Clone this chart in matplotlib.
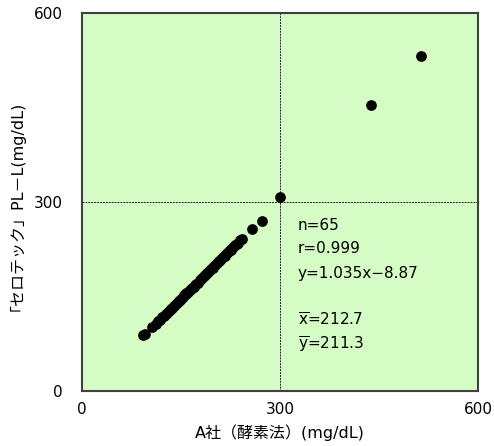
import matplotlib.pyplot as plt

plt.rcParams['font.family'] = ['DejaVu Sans', 'Noto Sans CJK JP']

# A社 (x) vs セロテック (y), mg/dL
x_vals = [93, 95, 106, 112, 115, 118, 121, 124, 127, 130, 133, 135, 136, 139, 142,
          145, 147, 148, 150, 153, 155, 157, 158, 161, 163, 165, 166, 169, 171, 172,
          175, 178, 180, 181, 184, 187, 189, 190, 193, 196, 198, 199, 202, 205, 207,
          208, 211, 214, 216, 217, 220, 223, 225, 226, 229, 232, 234, 236, 240, 242,
          258, 273, 300, 438, 513]
y_vals = [89, 91, 102, 107, 111, 113, 117, 119, 123, 126, 128, 131, 132, 135, 138,
          141, 143, 145, 146, 150, 152, 154, 155, 158, 160, 162, 163, 166, 168, 170,
          172, 176, 178, 179, 182, 185, 187, 188, 191, 194, 196, 197, 200, 204, 206,
          206, 210, 213, 214, 216, 219, 222, 224, 225, 228, 232, 233, 235, 239, 242,
          257, 270, 308, 454, 532]

ticks = [0, 300, 600]
stats = ['n=65', 'r=0.999', 'y=1.035x\u22128.87', '',
         r'$\mathregular{\overline{x}}$=212.7', r'$\mathregular{\overline{y}}$=211.3']

fig = plt.figure(figsize=(4.94, 4.46), dpi=100)
ax = fig.add_axes([0.166, 0.123, 0.802, 0.848])
ax.set_facecolor('#d4fcc4')

ax.scatter(x_vals, y_vals, s=45, color='black', zorder=3)

ax.set_xlim(0, 600)
ax.set_ylim(0, 600)
ax.set_xticks(ticks)
ax.set_yticks(ticks)
ax.tick_params(length=0, labelsize=11, pad=8)
ax.tick_params(axis='y', pad=14)

# only the middle lines are drawn
ax.axvline(300, color='#222222', lw=0.7, ls=(0, (2, 1)), zorder=1)
ax.axhline(300, color='#222222', lw=0.7, ls=(0, (2, 1)), zorder=1)

for sp in ax.spines.values():
    sp.set_color('#404040')
    sp.set_linewidth(1.5)

ax.set_xlabel('A社（酵素法）(mg/dL)', fontsize=11.5, labelpad=5)
ax.set_ylabel('「セロテック」PL－L(mg/dL)', fontsize=11.5, labelpad=12)

ypos = [0.439, 0.376, 0.312, 0.25, 0.188, 0.122]
for s, yp in zip(stats, ypos):
    ax.text(0.545, yp, s, transform=ax.transAxes, fontsize=11, va='center', ha='left')

plt.savefig('out.png', dpi=100)
